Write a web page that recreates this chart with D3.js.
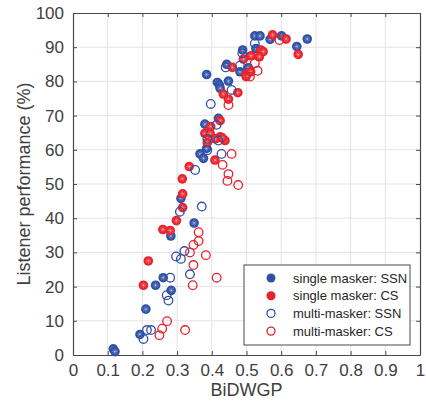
<!DOCTYPE html>
<html>
<head>
<meta charset="utf-8">
<script src="https://cdn.jsdelivr.net/npm/d3@7"></script>
<style>
  body { margin: 0; background: #fff; }
  svg text { font-family: "Liberation Sans", Arial, sans-serif; }
</style>
</head>
<body>
<svg id="chart"></svg>
<script>
// values: [BiDWGP, listener performance %]
var singleSSN = [
  [0.116, 1.8], [0.121, 1.0], [0.193, 6.0], [0.210, 13.4], [0.238, 20.4], [0.260, 22.6],
  [0.283, 18.9], [0.282, 34.8], [0.311, 45.8], [0.349, 38.6],
  [0.419, 69.2], [0.380, 67.5], [0.385, 60.4], [0.366, 58.8], [0.376, 57.5],
  [0.385, 82.0], [0.416, 79.7], [0.422, 78.9], [0.424, 78.0], [0.448, 80.1], [0.443, 85.0],
  [0.481, 82.8], [0.489, 89.2], [0.505, 84.0], [0.524, 93.3], [0.539, 93.3], [0.527, 89.6],
  [0.568, 92.3], [0.601, 93.3], [0.645, 90.2], [0.675, 92.4]
];
var singleCS = [
  [0.203, 20.4], [0.217, 27.5], [0.259, 36.7], [0.280, 36.4], [0.298, 39.3], [0.316, 43.1],
  [0.316, 47.1], [0.315, 51.5], [0.335, 55.1], [0.409, 57.0],
  [0.397, 66.8], [0.380, 64.8], [0.395, 64.8], [0.424, 63.8], [0.438, 62.7], [0.387, 62.1],
  [0.424, 68.5], [0.410, 63.2], [0.430, 63.5],
  [0.433, 76.3], [0.448, 74.8], [0.475, 76.7], [0.459, 84.1], [0.491, 86.5], [0.500, 82.2],
  [0.512, 82.8], [0.499, 81.4], [0.513, 87.5], [0.541, 89.2], [0.548, 88.7], [0.537, 87.2],
  [0.575, 93.6], [0.614, 92.4], [0.649, 87.9]
];
var multiSSN = [
  [0.203, 4.7], [0.213, 7.3], [0.225, 7.3], [0.270, 17.5], [0.275, 15.9], [0.280, 22.6],
  [0.297, 28.8], [0.311, 28.1], [0.321, 30.4], [0.337, 23.6], [0.308, 41.9], [0.371, 43.4],
  [0.352, 54.1], [0.428, 58.8], [0.387, 59.9], [0.419, 62.7], [0.387, 63.2], [0.414, 67.3],
  [0.397, 73.4], [0.457, 77.5], [0.440, 84.1], [0.481, 84.6], [0.488, 88.2], [0.524, 91.1]
];
var multiCS = [
  [0.249, 5.8], [0.257, 7.7], [0.271, 9.9], [0.323, 7.3], [0.337, 30.0], [0.345, 20.4],
  [0.347, 26.3], [0.347, 32.2], [0.362, 33.3], [0.362, 35.9], [0.383, 29.2], [0.414, 22.6],
  [0.476, 49.7], [0.445, 50.9], [0.448, 52.9], [0.431, 55.6], [0.457, 58.8], [0.448, 73.1],
  [0.510, 81.4], [0.524, 85.3], [0.532, 83.1], [0.595, 92.1]
];
var xTicks = [0, 0.1, 0.2, 0.3, 0.4, 0.5, 0.6, 0.7, 0.8, 0.9, 1];
var yTicks = [0, 10, 20, 30, 40, 50, 60, 70, 80, 90, 100];
var legendLabels = ["single masker: SSN", "single masker: CS", "multi-masker: SSN", "multi-masker: CS"];

var blue = "#2f50a6", red = "#e8212b";
var axisColor = "#4a4a4a", textColor = "#404040";
var margin = { top: 13, right: 6, bottom: 48, left: 73 };
var width = 426, height = 403;
var innerW = width - margin.left - margin.right;
var innerH = height - margin.top - margin.bottom;

var svg = d3.select("#chart").attr("width", width).attr("height", height);
var g = svg.append("g").attr("transform", `translate(${margin.left},${margin.top})`);

var x = d3.scaleLinear().domain([0, 1]).range([0, innerW]);
var y = d3.scaleLinear().domain([0, 100]).range([innerH, 0]);

// grid
g.append("g").selectAll("line").data(xTicks.slice(1, -1)).enter().append("line")
  .attr("x1", d => x(d)).attr("x2", d => x(d)).attr("y1", 0).attr("y2", innerH)
  .attr("stroke", "#e3e3e3").attr("stroke-width", 1);
g.append("g").selectAll("line").data(yTicks.slice(1, -1)).enter().append("line")
  .attr("y1", d => y(d)).attr("y2", d => y(d)).attr("x1", 0).attr("x2", innerW)
  .attr("stroke", "#e3e3e3").attr("stroke-width", 1);

// axes (ticks inward on all sides)
function styleAxis(sel) {
  sel.selectAll("path").attr("stroke", axisColor).attr("stroke-width", 1.2);
  sel.selectAll("line").attr("stroke", axisColor);
  sel.selectAll("text").attr("fill", textColor).style("font-size", "17px");
}
var fmt = d => d3.format("~g")(d);
g.append("g").attr("transform", `translate(0,${innerH})`)
  .call(d3.axisBottom(x).tickValues(xTicks).tickFormat(fmt).tickSizeInner(-4).tickSizeOuter(0).tickPadding(9))
  .call(styleAxis);
g.append("g")
  .call(d3.axisLeft(y).tickValues(yTicks).tickSizeInner(-4).tickSizeOuter(0).tickPadding(9))
  .call(styleAxis);
g.append("g")
  .call(d3.axisTop(x).tickValues(xTicks).tickFormat("").tickSizeInner(-4).tickSizeOuter(0))
  .call(styleAxis);
g.append("g").attr("transform", `translate(${innerW},0)`)
  .call(d3.axisRight(y).tickValues(yTicks).tickFormat("").tickSizeInner(-4).tickSizeOuter(0))
  .call(styleAxis);
g.selectAll(".domain").attr("fill", "none");

// axis labels
svg.append("text")
  .attr("x", margin.left + innerW / 2).attr("y", 396)
  .attr("text-anchor", "middle").attr("fill", textColor).style("font-size", "18px")
  .text("BiDWGP");
svg.append("text")
  .attr("transform", `translate(30,${margin.top + innerH / 2}) rotate(-90)`)
  .attr("text-anchor", "middle").attr("fill", textColor).style("font-size", "18px")
  .text("Listener performance (%)");

var r = 4.8;
var star = "M0,-3V3M-3,0H3M-2.1,-2.1L2.1,2.1M-2.1,2.1L2.1,-2.1";

function drawFilled(data, color) {
  var pts = g.append("g").selectAll("g").data(data).enter().append("g")
    .attr("transform", d => `translate(${x(d[0])},${y(d[1])})`);
  pts.append("circle").attr("r", r).attr("fill", color);
  pts.append("path").attr("d", star).attr("stroke", "#fff").attr("stroke-opacity", 0.35).attr("stroke-width", 0.8);
}
function drawOpen(data, color) {
  g.append("g").selectAll("circle").data(data).enter().append("circle")
    .attr("cx", d => x(d[0])).attr("cy", d => y(d[1])).attr("r", r - 0.5)
    .attr("fill", "none").attr("stroke", color).attr("stroke-width", 1.3);
}
drawFilled(singleSSN, blue);
drawFilled(singleCS, red);
drawOpen(multiSSN, blue);
drawOpen(multiCS, red);

// legend
var lg = svg.append("g").attr("transform", "translate(244,265)");
lg.append("rect").attr("width", 166).attr("height", 80)
  .attr("fill", "#fff").attr("stroke", axisColor).attr("stroke-width", 1);
var styles = [[blue, true], [red, true], [blue, false], [red, false]];
legendLabels.forEach(function (lab, i) {
  var cy = 13 + i * 17.7;
  var s = styles[i];
  if (s[1]) {
    lg.append("circle").attr("cx", 27).attr("cy", cy).attr("r", 4.5).attr("fill", s[0]);
  } else {
    lg.append("circle").attr("cx", 27).attr("cy", cy).attr("r", 4).attr("fill", "none")
      .attr("stroke", s[0]).attr("stroke-width", 1.3);
  }
  lg.append("text").attr("x", 49).attr("y", cy).attr("dy", "0.35em")
    .attr("fill", "#262626").style("font-size", "13px").text(lab);
});
</script>
</body>
</html>
